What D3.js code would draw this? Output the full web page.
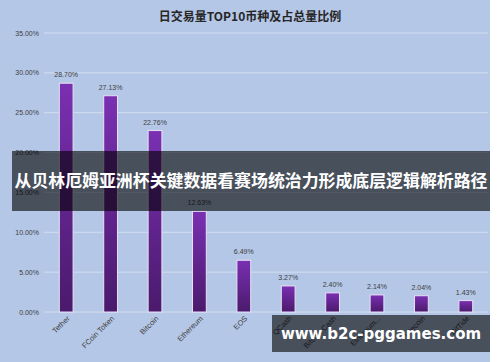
<!DOCTYPE html>
<html>
<head>
<meta charset="utf-8">
<script src="https://cdn.jsdelivr.net/npm/d3@7"></script>
<style>
  body { margin: 0; background: #fff; }
  svg { display: block; }
</style>
</head>
<body>
<div id="chart"></div>
<script>
const categories = ['Tether', 'FCoin Token', 'Bitcoin', 'Ethereum', 'EOS', 'QCash', 'Bitcoin Cash', 'Ethereum...', 'Litecoin', 'BitTide'];
const shares = [28.70, 27.13, 22.76, 12.63, 6.49, 3.27, 2.40, 2.14, 2.04, 1.43];
const yTicks = [0, 5, 10, 15, 20, 25, 30, 35];
const title = '日交易量TOP10币种及占总量比例';
const banner = '从贝林厄姆亚洲杯关键数据看赛场统治力形成底层逻辑解析路径';
const watermark = 'www.b2c-pggames.com';

const width = 500, height = 362;
const margin = { top: 33, right: 12, bottom: 50, left: 44 };

const svg = d3.select('#chart').append('svg')
  .attr('width', width)
  .attr('height', height);

// panel background
svg.append('rect')
  .attr('x', 0).attr('y', 0)
  .attr('width', 490).attr('height', height)
  .attr('fill', '#b4c7e7');

const defs = svg.append('defs');
const grad = defs.append('linearGradient')
  .attr('id', 'barGrad')
  .attr('x1', 0).attr('y1', 0).attr('x2', 0).attr('y2', 1);
grad.append('stop').attr('offset', '0%').attr('stop-color', '#7a30b2');
grad.append('stop').attr('offset', '100%').attr('stop-color', '#4a1a6c');

const x = d3.scaleBand()
  .domain(categories)
  .range([margin.left, 488])
  .paddingInner(0.69)
  .paddingOuter(0.345);

const y = d3.scaleLinear()
  .domain([0, 35])
  .range([312, margin.top]);

// gridlines
svg.append('g')
  .selectAll('line')
  .data(yTicks)
  .join('line')
  .attr('x1', margin.left)
  .attr('x2', 488)
  .attr('y1', d => y(d))
  .attr('y2', d => y(d))
  .attr('stroke', '#d3ddef')
  .attr('stroke-width', 1);

// y axis labels
svg.append('g')
  .selectAll('text')
  .data(yTicks)
  .join('text')
  .attr('x', 39)
  .attr('y', d => y(d) + 2.5)
  .attr('text-anchor', 'end')
  .attr('font-family', 'Liberation Sans, Arial, sans-serif')
  .attr('font-size', 7)
  .attr('fill', '#404040')
  .text(d => d.toFixed(2) + '%');

// bars
svg.append('g')
  .selectAll('rect')
  .data(shares)
  .join('rect')
  .attr('x', (d, i) => x(categories[i]))
  .attr('y', d => y(d))
  .attr('width', x.bandwidth())
  .attr('height', d => y(0) - y(d))
  .attr('fill', 'url(#barGrad)')
  .attr('stroke', '#e8e0f4')
  .attr('stroke-width', 1);

// value labels
svg.append('g')
  .selectAll('text')
  .data(shares)
  .join('text')
  .attr('x', (d, i) => x(categories[i]) + x.bandwidth() / 2)
  .attr('y', d => y(d) - 6)
  .attr('text-anchor', 'middle')
  .attr('font-family', 'Liberation Sans, Arial, sans-serif')
  .attr('font-size', 7)
  .attr('fill', '#404040')
  .text(d => d.toFixed(2) + '%');

// category labels
svg.append('g')
  .selectAll('text')
  .data(categories)
  .join('text')
  .attr('transform', d => `translate(${x(d) + x.bandwidth() / 2 + 4},${y(0) + 7}) rotate(-45)`)
  .attr('text-anchor', 'end')
  .attr('font-family', 'Liberation Sans, Arial, sans-serif')
  .attr('font-size', 7.5)
  .attr('fill', '#404040')
  .text(d => d);

// title
svg.append('text')
  .attr('x', 250)
  .attr('y', 21)
  .attr('text-anchor', 'middle')
  .attr('font-family', 'Noto Sans CJK SC, sans-serif')
  .attr('font-weight', 'bold')
  .attr('font-size', 12)
  .attr('fill', '#262626')
  .text(title);

// overlay banner
svg.append('rect')
  .attr('x', 12).attr('y', 151)
  .attr('width', 478).attr('height', 60)
  .attr('fill', 'rgba(0,0,0,0.6)');
svg.append('text')
  .attr('x', 251)
  .attr('y', 187)
  .attr('text-anchor', 'middle')
  .attr('font-family', 'Noto Sans CJK SC, sans-serif')
  .attr('font-weight', 'bold')
  .attr('font-size', 16.9)
  .attr('fill', '#fff')
  .text(banner);

// watermark
svg.append('rect')
  .attr('x', 272).attr('y', 315)
  .attr('width', 218).attr('height', 37)
  .attr('fill', 'rgba(0,0,0,0.6)');
svg.append('text')
  .attr('x', 381)
  .attr('y', 339)
  .attr('text-anchor', 'middle')
  .attr('font-family', 'DejaVu Sans, sans-serif')
  .attr('font-weight', 'bold')
  .attr('font-size', 15)
  .attr('fill', '#fff')
  .text(watermark);
</script>
</body>
</html>
